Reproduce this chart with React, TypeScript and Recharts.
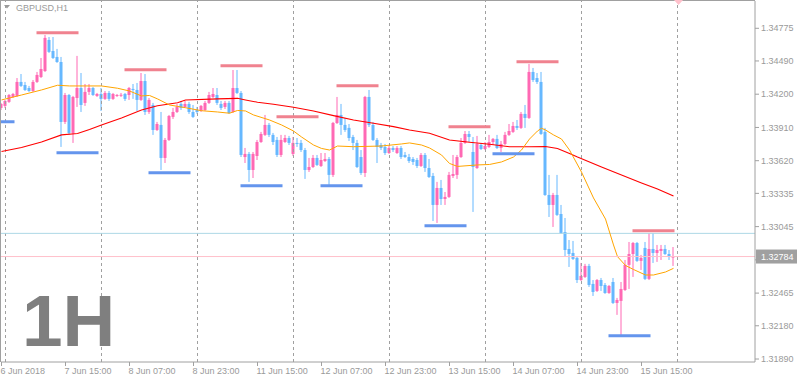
import { ComposedChart, Bar, Line, XAxis, YAxis, ReferenceLine } from 'recharts'

// GBPUSD H1 candles, 6 Jun 23:00 .. 15 Jun 23:00 (one entry per hour bar)
const opens = [
  1.3408, 1.34098, 1.34133, 1.34176, 1.34185, 1.34307, 1.3428, 1.34254, 1.34228, 1.34307,
  1.3435, 1.34402, 1.34673, 1.34577, 1.34525, 1.34481, 1.33958, 1.34193, 1.33862, 1.34167,
  1.34254, 1.34124, 1.3422, 1.34254, 1.34185, 1.34202, 1.34159, 1.34211, 1.34159, 1.34189,
  1.34189, 1.34202, 1.34193, 1.34246, 1.34237, 1.3415, 1.34315, 1.34045, 1.34106, 1.33888,
  1.33932, 1.33644, 1.33801, 1.34002, 1.34045, 1.34115, 1.34089, 1.34115, 1.34045, 1.34062,
  1.34054, 1.34062, 1.34124, 1.34176, 1.34193, 1.34115, 1.34089, 1.34124, 1.34045, 1.34254,
  1.34211, 1.33652, 1.33679, 1.33539, 1.33661, 1.33783, 1.33845, 1.33932, 1.33845, 1.33801,
  1.3367, 1.33783, 1.33818, 1.33679, 1.33775, 1.33775, 1.33713, 1.33539, 1.33565, 1.33644,
  1.33574, 1.33617, 1.33635, 1.33496, 1.33949, 1.34019, 1.33932, 1.33906, 1.33827, 1.33775,
  1.33652, 1.33513, 1.34176, 1.33932, 1.33801, 1.33757, 1.3374, 1.33687, 1.33731, 1.33687,
  1.33731, 1.3367, 1.33652, 1.33635, 1.33626, 1.33574, 1.3367, 1.33556, 1.33487, 1.33234,
  1.33382, 1.33286, 1.33304, 1.33487, 1.33496, 1.33652, 1.33775, 1.33853, 1.33696, 1.33556,
  1.33757, 1.33722, 1.3374, 1.33783, 1.3381, 1.33731, 1.33766, 1.33845, 1.33871, 1.33923,
  1.33906, 1.34028, 1.33993, 1.34394, 1.34341, 1.34307, 1.33871, 1.33321, 1.33234, 1.33321,
  1.33155, 1.32998, 1.3285, 1.32815, 1.32772, 1.32579, 1.32606, 1.32702, 1.32545, 1.32484,
  1.32579, 1.32536, 1.32466, 1.32562, 1.32379, 1.32397, 1.32492, 1.32711, 1.32806, 1.32902,
  1.32746, 1.32859, 1.32589, 1.3285, 1.32815, 1.32833, 1.3285, 1.32806, 1.32776,
]
const highs = [
  1.34124, 1.3415, 1.34202, 1.34211, 1.34341, 1.34376, 1.34307, 1.34272, 1.34324, 1.34394,
  1.34516, 1.34717, 1.34699, 1.34699, 1.34595, 1.34525, 1.34211, 1.34202, 1.34185, 1.34534,
  1.34385, 1.34289, 1.34289, 1.34263, 1.34211, 1.34254, 1.34228, 1.34228, 1.34211, 1.34202,
  1.34211, 1.34211, 1.34263, 1.34289, 1.34298, 1.34385, 1.34376, 1.34167, 1.34124, 1.33958,
  1.34045, 1.33818, 1.34019, 1.3408, 1.34115, 1.34141, 1.34141, 1.34133, 1.34106, 1.34089,
  1.34106, 1.34141, 1.3422, 1.34254, 1.34254, 1.34141, 1.34141, 1.34141, 1.34411, 1.34411,
  1.34228, 1.33731, 1.33696, 1.33696, 1.33801, 1.33871, 1.34019, 1.33949, 1.33862, 1.33827,
  1.33845, 1.33845, 1.33836, 1.33827, 1.33818, 1.33801, 1.33731, 1.33644, 1.3367, 1.3367,
  1.33687, 1.33687, 1.33652, 1.33958, 1.34176, 1.34115, 1.33993, 1.3394, 1.33845, 1.33801,
  1.33713, 1.34185, 1.34237, 1.33958, 1.33818, 1.33775, 1.33766, 1.33748, 1.33748, 1.33748,
  1.33748, 1.33696, 1.33679, 1.33652, 1.33644, 1.33687, 1.33687, 1.33635, 1.33513, 1.33435,
  1.33452, 1.33347, 1.33522, 1.3367, 1.3367, 1.33818, 1.33879, 1.33879, 1.33827, 1.33836,
  1.33775, 1.33783, 1.33845, 1.33818, 1.33845, 1.33792, 1.33871, 1.3394, 1.33958, 1.33975,
  1.34045, 1.34106, 1.34464, 1.34429, 1.34385, 1.34394, 1.33906, 1.33496, 1.33339, 1.33496,
  1.33234, 1.3312, 1.32928, 1.3292, 1.3278, 1.32728, 1.3272, 1.3272, 1.32579, 1.32588,
  1.32597, 1.32553, 1.32536, 1.32597, 1.32423, 1.32562, 1.32754, 1.32911, 1.32911, 1.32911,
  1.32798, 1.32911, 1.32989, 1.32989, 1.32885, 1.32885, 1.32885, 1.32841, 1.32867,
]
const lows = [
  1.34062, 1.3408, 1.34124, 1.34167, 1.34176, 1.34263, 1.34228, 1.3422, 1.3422, 1.34298,
  1.34341, 1.34394, 1.3456, 1.34507, 1.34473, 1.3374, 1.3394, 1.33845, 1.33775, 1.34089,
  1.34045, 1.34098, 1.34193, 1.34185, 1.34176, 1.34054, 1.3415, 1.34141, 1.3415, 1.34176,
  1.34176, 1.34141, 1.3415, 1.34159, 1.34054, 1.34141, 1.34019, 1.34028, 1.33845, 1.33879,
  1.33539, 1.336, 1.33792, 1.33984, 1.34036, 1.34062, 1.3408, 1.34028, 1.33993, 1.34028,
  1.34045, 1.34054, 1.34115, 1.34167, 1.34106, 1.34062, 1.34071, 1.34028, 1.34036, 1.34202,
  1.33652, 1.336, 1.33435, 1.33469, 1.33626, 1.33775, 1.33836, 1.33827, 1.33757, 1.33652,
  1.33652, 1.33775, 1.33757, 1.33661, 1.3374, 1.33696, 1.33461, 1.33522, 1.33556, 1.33574,
  1.33565, 1.33609, 1.33409, 1.33478, 1.3394, 1.33845, 1.33871, 1.33792, 1.33713, 1.33556,
  1.33496, 1.33478, 1.33914, 1.33792, 1.336, 1.33713, 1.3367, 1.33679, 1.33696, 1.33679,
  1.33635, 1.33644, 1.336, 1.33583, 1.33556, 1.33565, 1.33522, 1.33469, 1.33094, 1.33077,
  1.33234, 1.33234, 1.33295, 1.33469, 1.33461, 1.33644, 1.33766, 1.33783, 1.33173, 1.33548,
  1.33713, 1.33713, 1.33731, 1.33757, 1.33722, 1.33696, 1.33757, 1.33836, 1.33862, 1.33888,
  1.33897, 1.33906, 1.33984, 1.34307, 1.34289, 1.33845, 1.33313, 1.33129, 1.33042, 1.33138,
  1.32981, 1.3278, 1.32693, 1.32754, 1.32553, 1.32571, 1.32597, 1.32519, 1.3244, 1.32475,
  1.32484, 1.32458, 1.32458, 1.3237, 1.32275, 1.321, 1.32484, 1.32501, 1.32606, 1.32737,
  1.32667, 1.32579, 1.32579, 1.32728, 1.32737, 1.32754, 1.32798, 1.32754, 1.32702,
]
const closes = [
  1.34115, 1.34141, 1.34193, 1.34202, 1.34307, 1.34272, 1.34237, 1.34228, 1.34307, 1.34368,
  1.3442, 1.34691, 1.34569, 1.34516, 1.34481, 1.33958, 1.34193, 1.33862, 1.34176, 1.34254,
  1.34106, 1.3422, 1.34254, 1.34193, 1.34202, 1.34159, 1.34211, 1.34159, 1.34202, 1.34193,
  1.34195, 1.34159, 1.34254, 1.34237, 1.3415, 1.34315, 1.34045, 1.3415, 1.33888, 1.3394,
  1.33644, 1.33801, 1.3401, 1.34045, 1.34089, 1.3408, 1.34115, 1.34045, 1.34002, 1.34045,
  1.34098, 1.34124, 1.34193, 1.34202, 1.34124, 1.3408, 1.34124, 1.34036, 1.34254, 1.34211,
  1.3367, 1.33679, 1.33539, 1.33679, 1.33783, 1.33853, 1.33932, 1.33845, 1.33783, 1.3367,
  1.33801, 1.33818, 1.33775, 1.33775, 1.33766, 1.33713, 1.33539, 1.33565, 1.33644, 1.33583,
  1.33626, 1.33635, 1.33496, 1.33949, 1.34019, 1.33932, 1.33888, 1.33818, 1.33775, 1.33565,
  1.33513, 1.34176, 1.33932, 1.33801, 1.3374, 1.33731, 1.33687, 1.33731, 1.33713, 1.33731,
  1.33652, 1.33652, 1.33617, 1.33609, 1.33574, 1.3367, 1.33556, 1.33478, 1.33234, 1.33382,
  1.33286, 1.33304, 1.33496, 1.33504, 1.33652, 1.33775, 1.33853, 1.33827, 1.33565, 1.33766,
  1.33722, 1.33748, 1.33783, 1.3381, 1.33731, 1.33766, 1.33845, 1.33879, 1.33923, 1.33906,
  1.34028, 1.33993, 1.34394, 1.34324, 1.34307, 1.33853, 1.33321, 1.33234, 1.33321, 1.33147,
  1.32989, 1.32841, 1.32806, 1.32763, 1.32579, 1.32615, 1.32702, 1.32536, 1.32475, 1.32579,
  1.32527, 1.32466, 1.32527, 1.32379, 1.32405, 1.32501, 1.32711, 1.32806, 1.32902, 1.32746,
  1.32772, 1.32589, 1.3285, 1.32815, 1.32841, 1.3285, 1.32806, 1.3278, 1.32784,
]

// moving averages: [bar index, price]
const slowMa: [number, number][] = [
  [0, 1.337], [5, 1.33735], [10, 1.33783], [15, 1.33845], [19, 1.33857], [22, 1.33892],
  [25, 1.33932], [30, 1.33993], [35, 1.34062], [39, 1.341], [44, 1.34126], [46, 1.3415],
  [54, 1.34159], [59, 1.34164], [61, 1.3415], [64, 1.3413], [68, 1.34112], [73, 1.34086],
  [78, 1.34054], [83, 1.34013], [88, 1.33975], [93, 1.33946], [98, 1.33917], [102, 1.33888],
  [107, 1.33859], [112, 1.33801], [117, 1.33781], [122, 1.33763], [127, 1.33742], [132, 1.33742],
  [136, 1.33744], [139, 1.33726], [142, 1.33683], [144, 1.33652], [150, 1.33565], [155, 1.33495],
  [160, 1.33426], [164, 1.33374], [168, 1.33312],
]
const fastMa: [number, number][] = [
  [0, 1.3415], [5, 1.34193], [10, 1.34237], [14, 1.34278], [17, 1.34272], [25, 1.34272],
  [29, 1.34252], [32, 1.34228], [35, 1.34185], [37, 1.34189], [39, 1.34159], [42, 1.34106],
  [46, 1.34082], [50, 1.34056], [54, 1.34045], [57, 1.34034], [59, 1.34058], [61, 1.34054],
  [63, 1.34019], [67, 1.33975], [70, 1.33932], [73, 1.33879], [75, 1.33827], [78, 1.33757],
  [80, 1.33727], [82, 1.33713], [84, 1.33748], [88, 1.33742], [95, 1.33748], [100, 1.33766],
  [102, 1.33775], [105, 1.33757], [107, 1.33731], [110, 1.3367], [112, 1.33596], [114, 1.3357],
  [119, 1.33583], [122, 1.33587], [125, 1.33609], [128, 1.33652], [130, 1.33713], [132, 1.33809],
  [134, 1.33879], [135, 1.33903], [136, 1.33888], [138, 1.33845], [140, 1.33809], [142, 1.33713],
  [145, 1.33521], [148, 1.33295], [151, 1.33111], [153, 1.32885], [154, 1.32783], [156, 1.32706],
  [158, 1.32671], [161, 1.32623], [163, 1.32623], [166, 1.32649], [168, 1.32681],
]

// swing marks: bar span + price
const highMarks = [
  { from: 8.75, to: 19.25, price: 1.34737 },
  { from: 30.75, to: 41.25, price: 1.34414 },
  { from: 54.75, to: 65.25, price: 1.34449 },
  { from: 68.75, to: 79.25, price: 1.34004 },
  { from: 83.75, to: 94.25, price: 1.34274 },
  { from: 111.75, to: 122.25, price: 1.33917 },
  { from: 128.75, to: 139.25, price: 1.34484 },
  { from: 157.75, to: 168.25, price: 1.33009 },
]
const lowMarks = [
  { from: -7.25, to: 3.25, price: 1.3396 },
  { from: 13.75, to: 24.25, price: 1.3369 },
  { from: 36.75, to: 47.25, price: 1.33515 },
  { from: 59.75, to: 70.25, price: 1.33402 },
  { from: 79.75, to: 90.25, price: 1.33402 },
  { from: 105.75, to: 116.25, price: 1.33053 },
  { from: 122.75, to: 133.25, price: 1.33681 },
  { from: 151.75, to: 162.25, price: 1.32093 },
]

const timeTicks = [0, 16, 32, 48, 64, 80, 96, 112, 128, 144, 160]
const timeLabels = [
  '6 Jun 2018', '7 Jun 15:00', '8 Jun 07:00', '8 Jun 23:00', '11 Jun 15:00', '12 Jun 07:00',
  '12 Jun 23:00', '13 Jun 15:00', '14 Jun 07:00', '14 Jun 23:00', '15 Jun 15:00',
]
const priceTicks = [1.34775, 1.3449, 1.342, 1.3391, 1.3362, 1.33335, 1.33045, 1.32755, 1.32465, 1.3218, 1.3189]
const daySeparators = [1, 25, 49, 73, 97, 121, 145, 169]
const bidPrice = 1.32784
const levelPrice = 1.32986

const BULL = '#ff69b4'
const BEAR = '#66b8ff'
const AXIS = '#a0a0a0'
const TEXT = '#9a9a9a'
const FONT = '"Liberation Sans", Arial, sans-serif'

const data = opens.map((o, i) => ({
  i,
  open: o,
  high: highs[i],
  low: lows[i],
  close: closes[i],
  range: [lows[i], highs[i]],
}))
const slowData = slowMa.map(([i, v]) => ({ i, v }))
const fastData = fastMa.map(([i, v]) => ({ i, v }))

const Candle = (props: any) => {
  const { x, y, width, height, payload } = props
  if (x == null || y == null) return null
  const top = Math.min(y, y + height)
  const h = Math.abs(height)
  const cx = x + width / 2
  const span = payload.high - payload.low || 1e-9
  const toY = (p: number) => top + ((payload.high - p) / span) * h
  const up = payload.close >= payload.open
  const color = up ? BULL : BEAR
  const yo = toY(payload.open)
  const yc = toY(payload.close)
  const bt = Math.min(yo, yc)
  const bh = Math.max(1, Math.abs(yo - yc))
  return (
    <g>
      <line x1={cx} x2={cx} y1={top} y2={top + h} stroke={color} strokeWidth={1} />
      <rect x={cx - 1.5} y={bt} width={3} height={bh} fill={color} />
    </g>
  )
}

const TimeTick = ({ x, y, payload }: any) => (
  <text x={x - 1} y={y} dy="0.71em" fontSize={9} fill={TEXT} fontFamily={FONT} textAnchor="start">
    {timeLabels[timeTicks.indexOf(payload.value)]}
  </text>
)

// the level under the bid box stays hidden, as in the terminal
const PriceTick = ({ x, y, payload }: any) => {
  if (Math.abs(payload.value - bidPrice) < 0.0005) return <g />
  return (
    <text x={x} y={y} dy="0.355em" fontSize={9} fill={TEXT} fontFamily={FONT} textAnchor="start">
      {payload.value.toFixed(5)}
    </text>
  )
}

const BidBox = ({ viewBox }: any) => {
  if (!viewBox) return null
  const bx = viewBox.x + viewBox.width + 1
  return (
    <g>
      <rect x={bx} y={viewBox.y - 7} width={41} height={14} fill="#a0a0a0" />
      <text x={bx + 5} y={viewBox.y} dy="0.355em" fontSize={9} fill="#ffffff" fontFamily={FONT}>
        {bidPrice.toFixed(5)}
      </text>
    </g>
  )
}

export default function App() {
  return (
    <div style={{ position: 'absolute', left: 0, top: 0, width: 797, height: 382, background: '#fff' }}>
      <ComposedChart width={797} height={382} data={data} margin={{ top: 1, right: 0, bottom: 0, left: 1 }}>
        <XAxis
          dataKey="i"
          type="number"
          domain={[-0.125, 188.375]}
          allowDataOverflow
          ticks={timeTicks}
          interval={0}
          height={20}
          tickSize={4}
          stroke={AXIS}
          tickLine={{ stroke: AXIS }}
          tick={<TimeTick />}
        />
        <YAxis
          orientation="right"
          type="number"
          domain={[1.31864, 1.35013]}
          allowDataOverflow
          ticks={priceTicks}
          interval={0}
          width={42}
          tickSize={4}
          stroke={AXIS}
          tickLine={{ stroke: AXIS }}
          tick={<PriceTick />}
        />
        {daySeparators.map((d) => (
          <ReferenceLine key={'d' + d} x={d} stroke={AXIS} strokeDasharray="3 3" ifOverflow="hidden" />
        ))}
        <ReferenceLine y={levelPrice} stroke="#add8e6" />
        <Bar dataKey="range" shape={<Candle />} barSize={3} isAnimationActive={false} />
        <Line data={slowData} dataKey="v" type="linear" stroke="#ff0000" strokeWidth={1.1} dot={false} activeDot={false} isAnimationActive={false} />
        <Line data={fastData} dataKey="v" type="linear" stroke="#ffa500" strokeWidth={1} dot={false} activeDot={false} isAnimationActive={false} />
        {highMarks.map((m, k) => (
          <ReferenceLine
            key={'h' + k}
            segment={[{ x: m.from, y: m.price }, { x: m.to, y: m.price }]}
            stroke="#f0828f"
            strokeWidth={3}
            ifOverflow="hidden"
          />
        ))}
        {lowMarks.map((m, k) => (
          <ReferenceLine
            key={'l' + k}
            segment={[{ x: m.from, y: m.price }, { x: m.to, y: m.price }]}
            stroke="#6495ed"
            strokeWidth={3}
            ifOverflow="hidden"
          />
        ))}
        <ReferenceLine y={bidPrice} stroke="#ffc0cb" label={<BidBox />} />
      </ComposedChart>
      <svg width={797} height={382} style={{ position: 'absolute', left: 0, top: 0, pointerEvents: 'none' }}>
        <line x1={0} x2={755} y1={0.5} y2={0.5} stroke={AXIS} />
        <line x1={0.5} x2={0.5} y1={0} y2={362} stroke={AXIS} />
        <polygon points="4,5 10,5 7,8.5" fill={TEXT} />
        <text x={16} y={11} fontSize={9} fill={TEXT} fontFamily={FONT}>GBPUSD,H1</text>
        <polygon points="674,0 683,0 678.5,5" fill="#ffc0cb" />
        <text x={22} y={346} fontSize={73} fontWeight="bold" fill="#7f7f7f" fontFamily={FONT}>1H</text>
      </svg>
    </div>
  )
}
